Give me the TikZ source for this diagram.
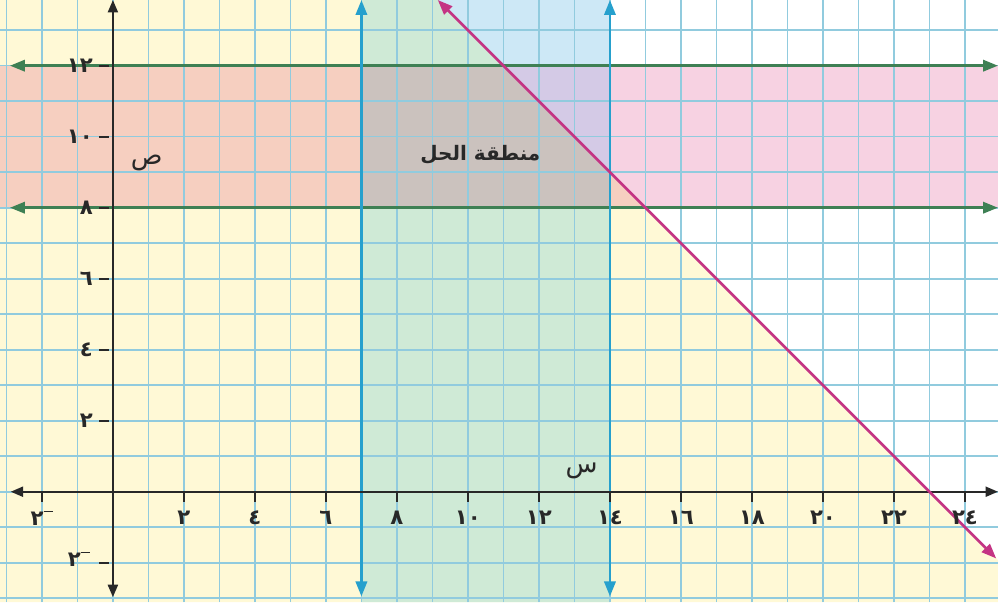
\documentclass[tikz,border=0pt]{standalone}
\usepackage{fontspec}
\usetikzlibrary{arrows.meta}
\TeXXeTstate=1
\newfontfamily\arabicfont[Script=Arabic]{DejaVu Sans}
\newfontfamily\digfont{DejaVu Sans}
\definecolor{cyel}{RGB}{255,249,214}
\definecolor{cblue}{RGB}{205,232,246}
\definecolor{cgreen}{RGB}{207,234,214}
\definecolor{cpink}{RGB}{247,210,226}
\definecolor{csalmon}{RGB}{246,207,192}
\definecolor{cpurple}{RGB}{212,202,230}
\definecolor{cgrey}{RGB}{203,194,190}
\definecolor{gridc}{RGB}{145,203,222}
\definecolor{axisc}{RGB}{40,40,40}
\definecolor{greenl}{RGB}{62,128,84}
\definecolor{bluel}{RGB}{38,160,205}
\definecolor{purpl}{RGB}{196,52,132}
\tikzset{
  gridline/.style={draw=gridc,line width=0.65pt},
  axisline/.style={draw=axisc,line width=0.9pt,{Triangle[length=5pt,width=4pt]}-{Triangle[length=5pt,width=4pt]}},
  bndgreen/.style={draw=greenl,line width=1.1pt,{Triangle[length=6pt,width=4.5pt]}-{Triangle[length=6pt,width=4.5pt]}},
  bndblue/.style={draw=bluel,line width=1.1pt,{Triangle[length=6pt,width=4.5pt]}-{Triangle[length=6pt,width=4.5pt]}},
  bndpurp/.style={draw=purpl,line width=1.1pt,{Triangle[length=6pt,width=4.5pt]}-{Triangle[length=6pt,width=4.5pt]}},
  tickline/.style={draw=axisc,line width=0.7pt},
  numlab/.style={inner sep=0pt,font=\digfont\bfseries\fontsize{8.5}{10}\selectfont,text=axisc},
  arlab/.style={inner sep=0pt,font=\arabicfont\fontsize{10.5}{12}\selectfont,text=axisc}
}
\newcommand{\negsign}{\rule[1.15ex]{0.45em}{0.6pt}}
\begin{document}
\begin{tikzpicture}[x=0.5cm,y=0.5cm]
\useasboundingbox (-3.18,-3.11) rectangle (24.93,13.85);
\fill[white] (-3.18,-3.11) rectangle (24.93,13.85);
% regions
\fill[cyel] (-3.18,-3.11) -- (24.93,-3.11) -- (24.93,-1.93) -- (9.15,13.85) -- (-3.18,13.85) -- cycle;
\fill[cblue] (7,-3.11) rectangle (14,13.85);
\fill[cgreen] (7,-3.11) -- (14,-3.11) -- (14,9) -- (9.15,13.85) -- (7,13.85) -- cycle;
\fill[cpink] (-3.18,8) rectangle (24.93,12);
\fill[csalmon] (-3.18,8) -- (15,8) -- (11,12) -- (-3.18,12) -- cycle;
\fill[cpurple] (7,8) rectangle (14,12);
\fill[cgrey] (7,8) -- (14,8) -- (14,9) -- (11,12) -- (7,12) -- cycle;
% grid
\foreach \i in {-3,...,24} \draw[gridline] (\i,-3.11) -- (\i,13.85);
\foreach \j in {-3,...,13} \draw[gridline] (-3.18,\j) -- (24.93,\j);
% boundary lines
\coordinate (g12l) at (-2.9,12); \coordinate (g12r) at (24.93,12);
\coordinate (g8l) at (-2.9,8); \coordinate (g8r) at (24.93,8);
\draw[bndgreen] (g12l) -- (g12r);
\draw[bndgreen] (g8l) -- (g8r);
\coordinate (b7b) at (7,-2.95); \coordinate (b7t) at (7,13.85);
\coordinate (b14b) at (14,-2.95); \coordinate (b14t) at (14,13.85);
\draw[bndblue] (b7b) -- (b7t);
\draw[bndblue] (b14b) -- (b14t);
% axes
\coordinate (xa) at (-2.88,0); \coordinate (xb) at (24.93,0);
\coordinate (ya) at (0,-2.97); \coordinate (yb) at (0,13.85);
\draw[axisline] (xa) -- (xb);
\draw[axisline] (ya) -- (yb);
% purple line x+y=23
\coordinate (pa) at (9.15,13.85); \coordinate (pb) at (24.88,-1.88);
\draw[bndpurp] (pa) -- (pb);
% x ticks and labels
\foreach \x/\t in {2/٢,4/٤,6/٦,8/٨,10/١٠,12/١٢,14/١٤,16/١٦,18/١٨,20/٢٠,22/٢٢,24/٢٤}{
  \draw[tickline] (\x,0) -- (\x,-0.28);
  \node[numlab] (xl\x) at (\x,-0.74) {\t};
}
\draw[tickline] (-2,0) -- (-2,-0.28);
\node[numlab] (xlm2) at (-2,-0.74) {٢\negsign};
% y ticks and labels
\foreach \y/\t in {2/٢,4/٤,6/٦,8/٨,10/١٠,12/١٢}{
  \draw[tickline] (-0.38,\y) -- (-0.1,\y);
  \node[numlab,anchor=east] (yl\y) at (-0.55,\y) {\t};
}
\draw[tickline] (-0.38,-2) -- (-0.1,-2);
\node[numlab,anchor=east] (ylm2) at (-0.62,-1.9) {٢\negsign};
% axis names and region label
\node[arlab] (sad) at (0.95,9.25) {\beginR ص\endR};
\node[arlab] (sin) at (13.2,0.6) {\beginR س\endR};
\node[arlab,font=\arabicfont\bfseries\fontsize{8}{10}\selectfont] (region) at (10.35,9.5) {\beginR منطقة الحل\endR};
\end{tikzpicture}
\end{document}
